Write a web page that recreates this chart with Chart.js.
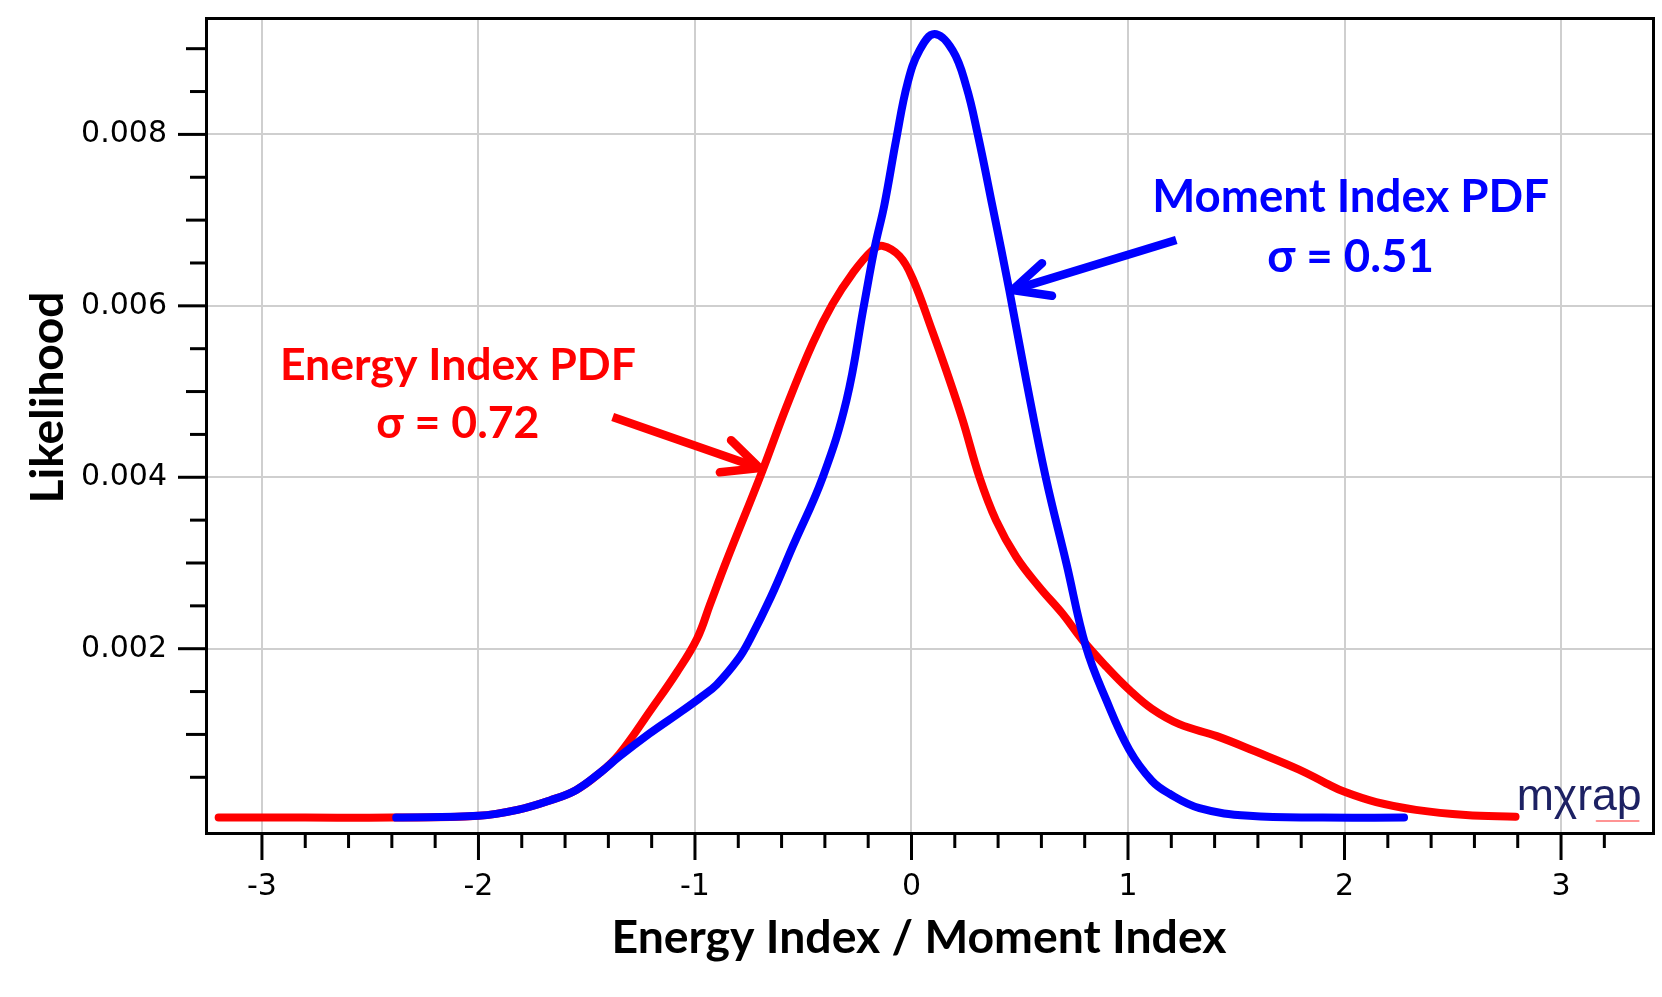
<!DOCTYPE html>
<html>
<head>
<meta charset="utf-8">
<script src="https://cdn.jsdelivr.net/npm/chart.js@4.4.1/dist/chart.umd.min.js"></script>
<style>
html,body{margin:0;padding:0;background:#ffffff;}
#wrap{width:1662px;height:997px;position:relative;}
</style>
</head>
<body>
<div id="wrap"><canvas id="c"></canvas></div>
<script>
// ---- data ----
const energyX = [-3.2, -2.8, -2.4, -2.0, -1.82, -1.67, -1.55, -1.44, -1.35, -1.2, -1.085, -0.99, -0.93, -0.855, -0.694, -0.578, -0.457, -0.365, -0.272, -0.18, -0.134, -0.055, 0.005, 0.097, 0.16, 0.236, 0.314, 0.39, 0.484, 0.59, 0.697, 0.79, 0.9, 1.006, 1.11, 1.237, 1.41, 1.59, 1.79, 1.915, 2.0, 2.146, 2.33, 2.56, 2.79];
const energyY = [0.00003, 0.00003, 0.00003, 0.00005, 0.00012, 0.00023, 0.00035, 0.00055, 0.00077, 0.0013, 0.00172, 0.00212, 0.00252, 0.00302, 0.00404, 0.00482, 0.00556, 0.00602, 0.00638, 0.00665, 0.0067, 0.00658, 0.00632, 0.0057, 0.00525, 0.00467, 0.004, 0.0035, 0.00307, 0.00272, 0.00241, 0.0021, 0.00179, 0.00152, 0.0013, 0.00112, 0.00098, 0.0008, 0.00059, 0.00043, 0.00033, 0.00021, 0.00012, 0.00006, 0.00004];
const momentX = [-2.38, -2.0, -1.82, -1.67, -1.55, -1.44, -1.35, -1.21, -1.085, -0.98, -0.9, -0.8, -0.748, -0.65, -0.549, -0.41, -0.30, -0.22, -0.17, -0.125, -0.07, -0.018, 0.037, 0.106, 0.19, 0.253, 0.306, 0.375, 0.452, 0.53, 0.62, 0.715, 0.806, 0.9, 1.006, 1.11, 1.19, 1.33, 1.56, 1.9, 2.275];
const momentY = [0.00003, 0.00005, 0.00012, 0.00023, 0.00035, 0.00055, 0.00074, 0.00101, 0.00123, 0.00142, 0.00158, 0.00188, 0.0021, 0.0026, 0.00319, 0.004, 0.0049, 0.006, 0.00668, 0.00718, 0.00795, 0.0086, 0.00898, 0.00917, 0.00898, 0.00856, 0.008, 0.00715, 0.00618, 0.00513, 0.004, 0.003, 0.00202, 0.0014, 0.00082, 0.00046, 0.00031, 0.00014, 0.00005, 0.00003, 0.00003];
const xTickLabels = [-3, -2, -1, 0, 1, 2, 3];
const yTickLabels = [0.002, 0.004, 0.006, 0.008];
const seriesNames = ['Energy Index PDF', 'Moment Index PDF'];
const sigmaLabels = ['\u03c3 = 0.72', '\u03c3 = 0.51'];
const xTitle = 'Energy Index / Moment Index';
const yTitle = 'Likelihood';
const logoText = 'm\u03c7rap';

// ---- annotation anchors (data units) ----
const energyNote = {x: -2.095, y1: 0.00514, y2: 0.00446, arrowFrom: [-1.380, 0.004702], arrowTo: [-0.7014, 0.004107]};
const momentNote = {x: 2.028, y1: 0.00709, y2: 0.00639, arrowFrom: [1.2229, 0.006768], arrowTo: [0.4661, 0.006184]};

const RED = '#ff0000', BLUE = '#0000ff';
const BOLD = "Lato, 'Open Sans', 'DejaVu Sans', sans-serif";

function fitSize(ctx, text, targetW, weight, family) {
  ctx.font = weight + ' 100px ' + family;
  return 100 * targetW / ctx.measureText(text).width;
}

function drawArrow(ctx, x0, y0, x1, y1, color) {
  const ang = Math.atan2(y1 - y0, x1 - x0);
  ctx.strokeStyle = color;
  ctx.lineWidth = 8.5;
  ctx.lineCap = 'butt';
  ctx.beginPath();
  ctx.moveTo(x0, y0);
  ctx.lineTo(x1 - 5 * Math.cos(ang), y1 - 5 * Math.sin(ang));
  ctx.stroke();
  const L = 40, s = 0.44;
  ctx.lineCap = 'round';
  ctx.lineJoin = 'round';
  ctx.beginPath();
  ctx.moveTo(x1 - L * Math.cos(ang - s), y1 - L * Math.sin(ang - s));
  ctx.lineTo(x1, y1);
  ctx.lineTo(x1 - L * Math.cos(ang + s), y1 - L * Math.sin(ang + s));
  ctx.stroke();
}

const decor = {
  id: 'decor',
  afterDraw(chart) {
    const {ctx, chartArea: a, scales: {x, y}} = chart;
    ctx.save();
    // frame
    ctx.strokeStyle = '#000';
    ctx.lineWidth = 3;
    ctx.strokeRect(a.left + 1.5, a.top + 0.5, a.right - a.left - 3, a.bottom - a.top);
    // x ticks every 0.2, major every 1
    ctx.lineWidth = 3;
    ctx.lineCap = 'butt';
    for (let i = -15; i <= 16; i++) {
      const px = x.getPixelForValue(i * 0.2);
      const len = (i % 5 === 0) ? 27 : 15;
      ctx.beginPath();
      ctx.moveTo(px, a.bottom);
      ctx.lineTo(px, a.bottom + len);
      ctx.stroke();
    }
    // y ticks every 0.0005, mid every 0.001, major every 0.002
    for (let k = 1; k <= 18; k++) {
      const py = y.getPixelForValue(k * 0.0005);
      const len = (k % 4 === 0) ? 27 : (k % 2 === 0 ? 19 : 15);
      ctx.beginPath();
      ctx.moveTo(a.left, py);
      ctx.lineTo(a.left - len, py);
      ctx.stroke();
    }
    // axis titles
    ctx.fillStyle = '#000';
    ctx.textAlign = 'center';
    ctx.textBaseline = 'alphabetic';
    const xs = fitSize(ctx, xTitle, 615, 'bold', BOLD);
    ctx.font = 'bold ' + xs + 'px ' + BOLD;
    ctx.fillText(xTitle, 919, 953);
    const ysz = fitSize(ctx, yTitle, 212, 'bold', BOLD);
    ctx.save();
    ctx.translate(63, 397.5);
    ctx.rotate(-Math.PI / 2);
    ctx.font = 'bold ' + ysz + 'px ' + BOLD;
    ctx.fillText(yTitle, 0, 0);
    ctx.restore();
    // annotations
    const es = fitSize(ctx, seriesNames[0], 356, 'bold', BOLD);
    ctx.font = 'bold ' + es + 'px ' + BOLD;
    ctx.fillStyle = RED;
    ctx.fillText(seriesNames[0], x.getPixelForValue(energyNote.x), y.getPixelForValue(energyNote.y1));
    ctx.fillText(sigmaLabels[0], x.getPixelForValue(energyNote.x), y.getPixelForValue(energyNote.y2));
    const ms = fitSize(ctx, seriesNames[1], 397, 'bold', BOLD);
    ctx.font = 'bold ' + ms + 'px ' + BOLD;
    ctx.fillStyle = BLUE;
    ctx.fillText(seriesNames[1], x.getPixelForValue(momentNote.x), y.getPixelForValue(momentNote.y1));
    ctx.fillText(sigmaLabels[1], x.getPixelForValue(momentNote.x), y.getPixelForValue(momentNote.y2));
    drawArrow(ctx, x.getPixelForValue(energyNote.arrowFrom[0]), y.getPixelForValue(energyNote.arrowFrom[1]),
      x.getPixelForValue(energyNote.arrowTo[0]), y.getPixelForValue(energyNote.arrowTo[1]), RED);
    drawArrow(ctx, x.getPixelForValue(momentNote.arrowFrom[0]), y.getPixelForValue(momentNote.arrowFrom[1]),
      x.getPixelForValue(momentNote.arrowTo[0]), y.getPixelForValue(momentNote.arrowTo[1]), BLUE);
    // logo
    const lx = x.getPixelForValue(2.795);
    const ls = fitSize(ctx, logoText, 125, 'normal', "'Liberation Sans', Arial, sans-serif");
    ctx.font = 'normal ' + ls + 'px ' + "'Liberation Sans', Arial, sans-serif";
    ctx.textAlign = 'left';
    ctx.fillStyle = '#1d2163';
    ctx.fillText(logoText, lx, 810);
    ctx.strokeStyle = 'rgba(255,60,60,0.55)';
    ctx.lineWidth = 2;
    ctx.beginPath();
    ctx.moveTo(lx + 80, 821);
    ctx.lineTo(lx + 122, 821);
    ctx.stroke();
    ctx.restore();
  }
};

const ctx = document.getElementById('c').getContext('2d');
new Chart(ctx, {
  type: 'line',
  data: {
    datasets: [
      {
        label: seriesNames[1],
        data: momentX.map((v, i) => ({x: v, y: momentY[i]})),
        borderColor: BLUE,
        borderWidth: 8,
        borderCapStyle: 'round',
        borderJoinStyle: 'round',
        pointRadius: 0,
        tension: 0.4,
        fill: false,
        order: 0
      },
      {
        label: seriesNames[0],
        data: energyX.map((v, i) => ({x: v, y: energyY[i]})),
        borderColor: RED,
        borderWidth: 8,
        borderCapStyle: 'round',
        borderJoinStyle: 'round',
        pointRadius: 0,
        tension: 0.4,
        fill: false,
        order: 1
      }
    ]
  },
  options: {
    responsive: true,
    maintainAspectRatio: false,
    animation: false,
    layout: {padding: {top: 18, right: 7, left: 0, bottom: 0}},
    plugins: {legend: {display: false}, tooltip: {enabled: false}},
    scales: {
      x: {
        type: 'linear',
        min: -3.263,
        max: 3.434,
        afterBuildTicks: (s) => { s.ticks = xTickLabels.map(v => ({value: v})); },
        afterFit: (s) => { s.height = 164; s.paddingLeft = 0; s.paddingRight = 0; },
        ticks: {
          color: '#000',
          padding: 36,
          font: {family: "'DejaVu Sans', Verdana, sans-serif", size: 30},
          callback: (v) => String(v)
        },
        grid: {color: '#cfcfcf', lineWidth: 2, drawTicks: false},
        border: {display: false}
      },
      y: {
        type: 'linear',
        min: -0.00015,
        max: 0.009358,
        afterBuildTicks: (s) => { s.ticks = yTickLabels.map(v => ({value: v})); },
        afterFit: (s) => { s.width = 205; s.paddingTop = 0; s.paddingBottom = 0; },
        ticks: {
          color: '#000',
          padding: 38,
          font: {family: "'DejaVu Sans', Verdana, sans-serif", size: 30},
          callback: (v) => Number(v).toFixed(3)
        },
        grid: {color: '#cfcfcf', lineWidth: 2, drawTicks: false},
        border: {display: false}
      }
    }
  },
  plugins: [decor]
});
</script>
</body>
</html>
